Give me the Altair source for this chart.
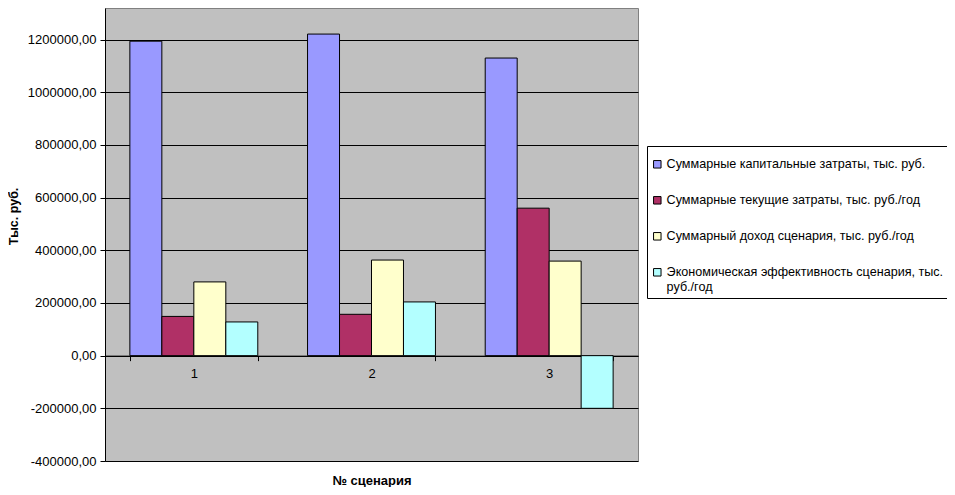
import altair as alt
import pandas as pd

scenarios = ["1", "2", "3"]
series = [
    "Суммарные капитальные затраты, тыс. руб.",
    "Суммарные текущие затраты, тыс. руб./год",
    "Суммарный доход сценария, тыс. руб./год",
    "Экономическая эффективность сценария, тыс. руб./год",
]
capital = [1194000, 1221000, 1130000]
current = [149000, 157000, 560000]
income = [280000, 363000, 359000]
efficiency = [128000, 204000, -200000]
y_ticks = [-400000, -200000, 0, 200000, 400000, 600000, 800000, 1000000, 1200000]
colors = ["#9999FF", "#B03066", "#FFFFCC", "#B3FFFF"]

values_by_series = [capital, current, income, efficiency]
rows = []
for s, vals in zip(series, values_by_series):
    for sc, v in zip(scenarios, vals):
        rows.append({"scenario": sc, "series": s, "value": v})
df = pd.DataFrame(rows)

font = "Liberation Sans"
W, H = 533, 453
y_min, y_max = -400000, 1320000
zero_y = H * (y_max - 0) / (y_max - y_min)
x_axis_offset = -(H - zero_y)

label_expr = (
    "datum.label == '" + series[3] + "' ? "
    "['Экономическая эффективность сценария, тыс.', 'руб./год'] : datum.label"
)

chart = alt.Chart(df).mark_bar(stroke="black", strokeWidth=1).encode(
    x=alt.X(
        "scenario:N",
        sort=scenarios,
        scale=alt.Scale(paddingInner=0.28, paddingOuter=0.14),
        axis=alt.Axis(
            title="№ сценария",
            labelAngle=0,
            offset=x_axis_offset,
            domainColor="black",
            tickColor="black",
            tickSize=5,
            tickBand="extent",
            labelPadding=7,
            labelFont=font,
            labelFontSize=13,
            labelColor="black",
            titleFont=font,
            titleFontSize=13,
            titleFontWeight="bold",
            titleColor="black",
            titleBaseline="alphabetic",
            titleY=129,
            grid=False,
        ),
    ),
    xOffset=alt.XOffset("series:N", sort=series, scale=alt.Scale(paddingInner=0, paddingOuter=0)),
    y=alt.Y(
        "value:Q",
        scale=alt.Scale(domain=[y_min, y_max], nice=False, zero=False),
        axis=alt.Axis(
            title="Тыс. руб.",
            values=y_ticks,
            labelExpr="replace(replace(format(datum.value, '.2f'), '.', ','), '\u2212', '-')",
            grid=True,
            gridColor="black",
            gridWidth=1,
            gridOpacity=1,
            domainColor="black",
            tickColor="black",
            tickSize=5,
            labelPadding=4,
            labelFont=font,
            labelFontSize=13,
            labelColor="black",
            titleFont=font,
            titleFontSize=12.5,
            titleFontWeight="bold",
            titleColor="black",
            titleAngle=270,
            titleX=-88,
            titleY=208,
            titleBaseline="alphabetic",
            titleAlign="center",
        ),
    ),
    color=alt.Color(
        "series:N",
        sort=series,
        scale=alt.Scale(domain=series, range=colors),
        legend=alt.Legend(
            title=" ",
            titleFontSize=4,
            titlePadding=4,
            orient="none",
            legendX=542,
            legendY=138,
            symbolType="square",
            symbolSize=56,
            symbolStrokeColor="black",
            symbolStrokeWidth=1,
            symbolOpacity=1,
            labelFont=font,
            labelFontSize=12.6,
            labelColor="black",
            labelLimit=400,
            labelOffset=3,
            labelExpr=label_expr,
            rowPadding=23,
            padding=4,
            strokeColor="black",
            fillColor="white",
        ),
    ),
).properties(
    width=W,
    height=H,
    autosize=alt.AutoSizeParams(type="none"),
    padding={"left": 97, "top": 0, "right": 309, "bottom": 26},
    background="white",
).configure_view(fill="#C0C0C0", stroke="#808080", strokeWidth=1)

chart.save("out.html", embed_options={"renderer": "svg", "actions": False})
